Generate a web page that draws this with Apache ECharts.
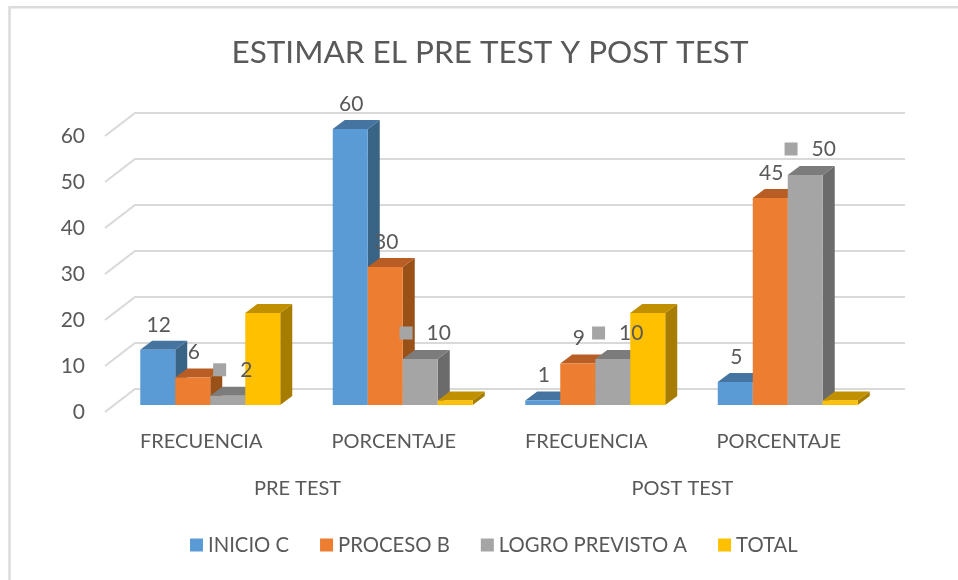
<!DOCTYPE html>
<html>
<head>
<meta charset="utf-8">
<style>
  html, body { margin: 0; padding: 0; background: #fff; }
  #chart { width: 958px; height: 580px; }
</style>
<script src="https://cdn.jsdelivr.net/npm/echarts@6/dist/echarts.min.js"></script>
</head>
<body>
<div id="chart"></div>
<script>
const categories = ['FRECUENCIA', 'PORCENTAJE', 'FRECUENCIA', 'PORCENTAJE'];
const groups = ['PRE TEST', 'POST TEST'];
const yTicks = [0, 10, 20, 30, 40, 50, 60];

const inicioC = [12, 60, 1, 5];
const procesoB = [6, 30, 9, 45];
const logroPrevistoA = [2, 10, 10, 50];
const total = [20, 1, 20, 1];

const FONT = 'Lato';
const TEXT = '#595959';

// front, top and side colour of each 3D bar
const blue = ['#5B9BD5', '#44749F', '#3A6486'];
const orange = ['#ED7D31', '#B85E24', '#9A5118'];
const grey = ['#A5A5A5', '#7C7C7C', '#6B6B6B'];
const gold = ['#FFC000', '#C09000', '#A67D00'];

// offsets of the fake 3D depth, from the floor's front edge
const barDx = 9, barDy = -7;
const depthDx = 12, depthDy = -9;
const wallDx = 30, wallDy = -23;

const chart = echarts.init(document.getElementById('chart'));

function poly(points, fill) {
  return { type: 'polygon', shape: { points: points }, style: { fill: fill } };
}

// draws one series: a box per value, from the value's place on the axes
function barBox(index, shades, showValue, withKey) {
  return function (params, api) {
    const band = api.size([1, 0])[0];
    const w = band / 5.5;
    const top = api.coord([api.value(0), api.value(1)]);
    const base = api.coord([api.value(0), 0]);
    const x = top[0] + barDx + (index - 2) * w;
    const y0 = base[1] + barDy;
    const y1 = top[1] + barDy;
    const children = [
      poly([[x + w, y0], [x + w + depthDx, y0 + depthDy], [x + w + depthDx, y1 + depthDy], [x + w, y1]], shades[2]),
      poly([[x, y1], [x + depthDx, y1 + depthDy], [x + w + depthDx, y1 + depthDy], [x + w, y1]], shades[1]),
      { type: 'rect', shape: { x: x, y: y1, width: w, height: y0 - y1 }, style: { fill: shades[0] } }
    ];
    if (showValue) {
      const v = String(api.value(1));
      children.push({
        type: 'text',
        z2: 100,
        style: {
          x: x + w / 2 + (withKey ? 5 : 1),
          y: y1 - (withKey ? 26 : 25),
          text: withKey ? '{sq|}{gap|}{v|' + v + '}' : v,
          align: 'center',
          verticalAlign: 'middle',
          font: '21px ' + FONT,
          fill: TEXT,
          rich: withKey ? {
            sq: { width: 13, height: 13, backgroundColor: shades[0] },
            gap: { width: 14 },
            v: { font: '21px ' + FONT, fill: TEXT, color: TEXT }
          } : undefined
        }
      });
    }
    return { type: 'group', children: children };
  };
}

function barSeries(name, values, index, shades, showValue, withKey) {
  return {
    name: name,
    type: 'custom',
    coordinateSystem: 'cartesian2d',
    xAxisIndex: 0,
    yAxisIndex: 0,
    itemStyle: { color: shades[0] },
    encode: { x: 0, y: 1 },
    data: values.map(function (v, i) { return [i, v]; }),
    renderItem: barBox(index, shades, showValue, withKey),
    z: 3
  };
}

const option = {
  animation: false,
  backgroundColor: '#fff',
  title: {
    text: 'ESTIMAR EL PRE TEST Y POST TEST',
    left: 485,
    top: 32,
    textAlign: 'center',
    textStyle: { fontFamily: FONT, fontSize: 31.5, fontWeight: 'normal', color: TEXT }
  },
  legend: {
    bottom: 20,
    left: 185,
    icon: 'rect',
    itemWidth: 13,
    itemHeight: 13,
    itemGap: 31,
    textStyle: { fontFamily: FONT, fontSize: 20.3, color: TEXT },
    data: ['INICIO C', 'PROCESO B', 'LOGRO PREVISTO A', 'TOTAL']
  },
  grid: { left: 105, top: 136, width: 770, height: 276 },
  xAxis: [
    {
      type: 'category',
      data: categories,
      axisLine: { show: false },
      axisTick: { show: false },
      axisLabel: { fontFamily: FONT, fontSize: 20, color: TEXT, margin: 20 }
    },
    {
      type: 'category',
      position: 'bottom',
      offset: 47,
      data: groups,
      axisLine: { show: false },
      axisTick: { show: false },
      axisLabel: { fontFamily: FONT, fontSize: 20, color: TEXT, margin: 20 }
    }
  ],
  yAxis: {
    type: 'value',
    min: 0,
    max: 60,
    interval: 10,
    axisLine: { show: false },
    axisTick: { show: false },
    splitLine: { show: false },
    axisLabel: { fontFamily: FONT, fontSize: 21, color: TEXT, margin: 20 }
  },
  series: [
    {
      // side and back gridlines of the 3D wall
      type: 'custom',
      silent: true,
      z: 1,
      encode: { y: 0 },
      data: yTicks,
      renderItem: function (params, api) {
        const c = params.coordSys;
        const y = api.coord([0, api.value(0)])[1];
        const lineStyle = { stroke: '#D9D9D9', lineWidth: 2, fill: 'none' };
        return {
          type: 'polyline',
          shape: { points: [[c.x, y], [c.x + wallDx, y + wallDy], [c.x + wallDx + c.width, y + wallDy]] },
          style: lineStyle
        };
      }
    },
    barSeries('INICIO C', inicioC, 0, blue, true, false),
    barSeries('PROCESO B', procesoB, 1, orange, true, false),
    barSeries('LOGRO PREVISTO A', logroPrevistoA, 2, grey, true, true),
    barSeries('TOTAL', total, 3, gold, false, false)
  ],
  graphic: [
    {
      // chart frame
      type: 'polyline',
      silent: true,
      shape: { points: [[9.5, 580], [9.5, 7.3], [958, 7.3]] },
      style: { stroke: '#DCDCDC', lineWidth: 2.5, fill: 'none' }
    }
  ]
};

chart.setOption(option);
window.addEventListener('resize', () => chart.resize());
</script>
</body>
</html>
